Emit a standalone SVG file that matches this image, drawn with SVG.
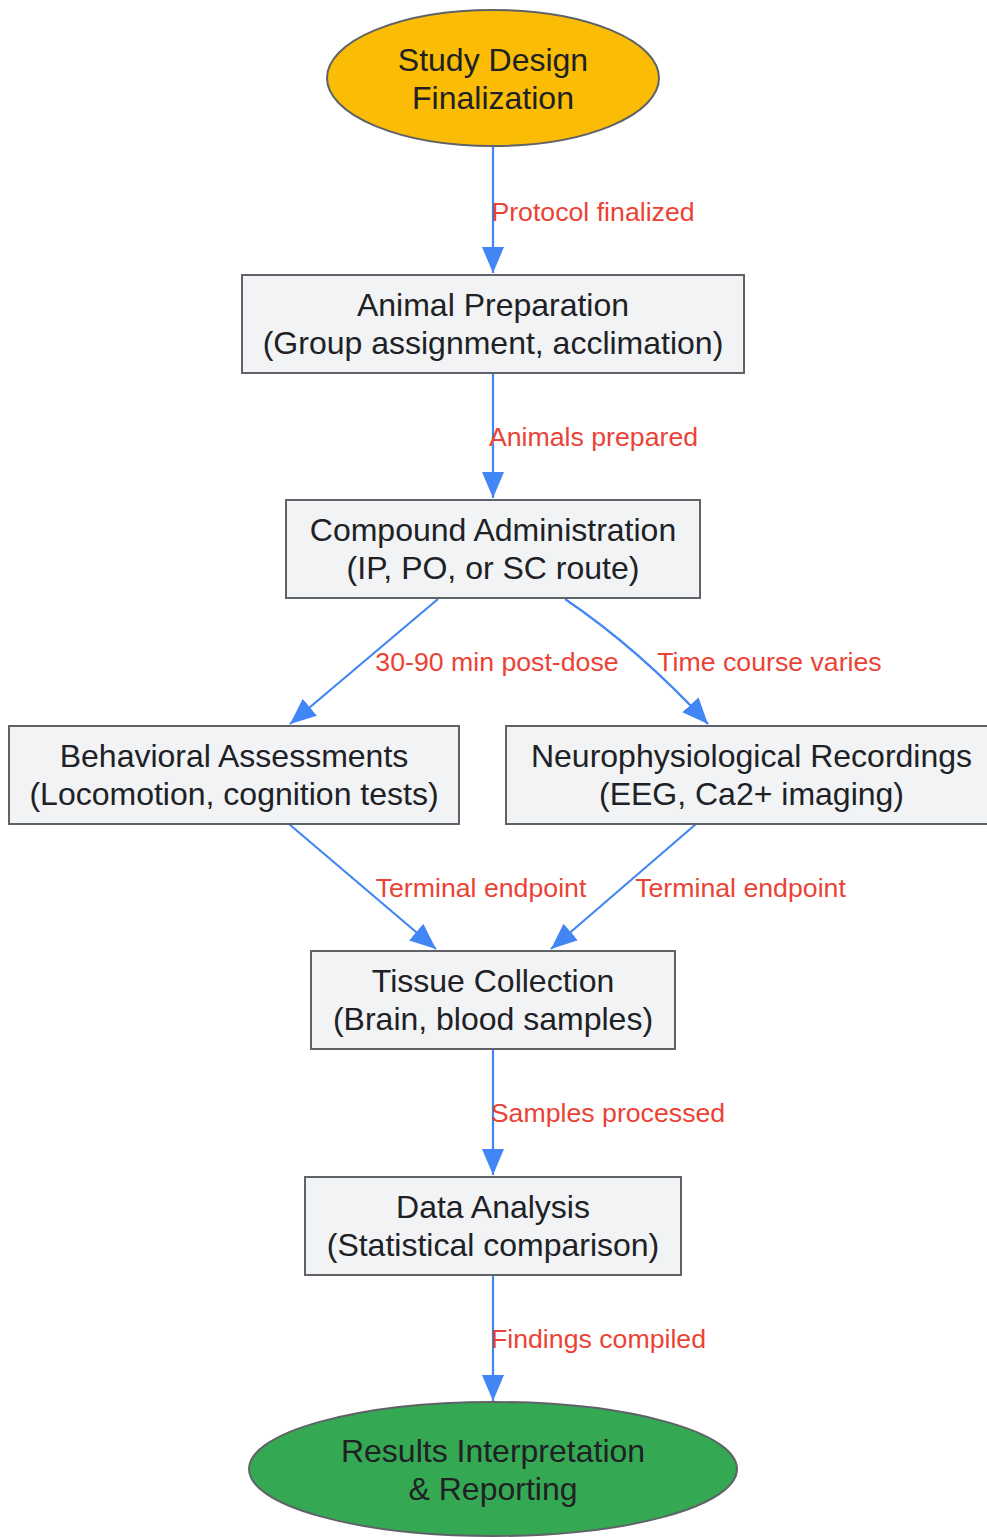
<svg xmlns="http://www.w3.org/2000/svg" width="987" height="1537" viewBox="0 0 987 1537">
<defs>
<style>
.box{fill:#F1F3F4;stroke:#5F6368;stroke-width:2}
.t{font-family:"Liberation Sans",Arial,sans-serif;font-size:32px;fill:#202124;text-anchor:middle}
.lbl{font-family:"Liberation Sans",Arial,sans-serif;font-size:26.7px;fill:#EA4335;text-anchor:middle}
.e{fill:none;stroke:#4285F4;stroke-width:2.2}
</style>
<marker id="arr" markerUnits="userSpaceOnUse" markerWidth="28" markerHeight="24" refX="26" refY="11" orient="auto">
<path d="M0,0 L26,11 L0,22 Z" fill="#4285F4"/>
</marker>
</defs>
<rect width="987" height="1537" fill="#FFFFFF"/>
<g id="edges">
<path class="e" d="M493,147 L493,273" marker-end="url(#arr)"/>
<path class="e" d="M493,373 L493,498" marker-end="url(#arr)"/>
<path class="e" d="M438,599 L290,724" marker-end="url(#arr)"/>
<path class="e" d="M565,599 Q640,650 708,724" marker-end="url(#arr)"/>
<path class="e" d="M289,824 L436,949" marker-end="url(#arr)"/>
<path class="e" d="M696,824 L551,949" marker-end="url(#arr)"/>
<path class="e" d="M493,1049 L493,1175" marker-end="url(#arr)"/>
<path class="e" d="M493,1275 L493,1401" marker-end="url(#arr)"/>
<text class="lbl" x="593" y="221">Protocol finalized</text>
<text class="lbl" x="593.5" y="446">Animals prepared</text>
<text class="lbl" x="497" y="671">30-90 min post-dose</text>
<text class="lbl" x="769.5" y="671">Time course varies</text>
<text class="lbl" x="481" y="897">Terminal endpoint</text>
<text class="lbl" x="740.5" y="897">Terminal endpoint</text>
<text class="lbl" x="608" y="1122">Samples processed</text>
<text class="lbl" x="598.5" y="1348">Findings compiled</text>
</g>
<g id="study-design">
<ellipse cx="493" cy="78" rx="166" ry="68" fill="#FBBC05" stroke="#5F6368" stroke-width="2"/>
<text class="t" x="493" y="71">Study Design</text>
<text class="t" x="493" y="109">Finalization</text>
</g>
<g id="animal-prep">
<rect class="box" x="242" y="275" width="502" height="98"/>
<text class="t" x="493" y="316">Animal Preparation</text>
<text class="t" x="493" y="354">(Group assignment, acclimation)</text>
</g>
<g id="compound-admin">
<rect class="box" x="286" y="500" width="414" height="98"/>
<text class="t" x="493" y="541">Compound Administration</text>
<text class="t" x="493" y="579">(IP, PO, or SC route)</text>
</g>
<g id="behavioral">
<rect class="box" x="9" y="726" width="450" height="98"/>
<text class="t" x="234" y="767">Behavioral Assessments</text>
<text class="t" x="234" y="805">(Locomotion, cognition tests)</text>
</g>
<g id="neuro">
<rect class="box" x="506" y="726" width="491" height="98"/>
<text class="t" x="751.5" y="767">Neurophysiological Recordings</text>
<text class="t" x="751.5" y="805">(EEG, Ca2+ imaging)</text>
</g>
<g id="tissue">
<rect class="box" x="311" y="951" width="364" height="98"/>
<text class="t" x="493" y="992">Tissue Collection</text>
<text class="t" x="493" y="1030">(Brain, blood samples)</text>
</g>
<g id="data-analysis">
<rect class="box" x="305" y="1177" width="376" height="98"/>
<text class="t" x="493" y="1218">Data Analysis</text>
<text class="t" x="493" y="1256">(Statistical comparison)</text>
</g>
<g id="results">
<ellipse cx="493" cy="1469" rx="244" ry="67" fill="#34A853" stroke="#5F6368" stroke-width="2"/>
<text class="t" x="493" y="1462">Results Interpretation</text>
<text class="t" x="493" y="1500">&amp; Reporting</text>
</g>
</svg>
